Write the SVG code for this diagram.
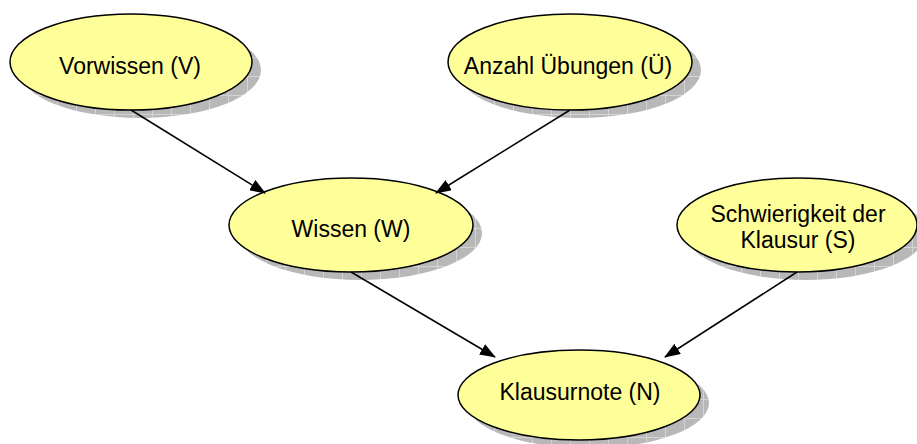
<svg xmlns="http://www.w3.org/2000/svg" width="917" height="444" viewBox="0 0 917 444">
  <defs>
    <!-- grid-textured drop shadow fill -->
    <pattern id="shadowGrid" patternUnits="userSpaceOnUse" width="19" height="19">
      <rect width="19" height="19" fill="#b8b8b8"/>
      <path d="M0 0.5H19M0.5 0V19" stroke="#d4d4d4" stroke-width="1"/>
    </pattern>
    <marker id="arrow" markerUnits="userSpaceOnUse" markerWidth="16" markerHeight="12" refX="15" refY="6" orient="auto">
      <path d="M0 0L16 6L0 12Z" fill="#000"/>
    </marker>
  </defs>
  <style>
    .shadow { fill: url(#shadowGrid); }
    .node { fill: #ffff99; stroke: #000; stroke-width: 1.5; }
    .label { font-family: "Liberation Sans", Arial, sans-serif; font-size: 23px; fill: #000; text-anchor: middle; }
    .edge { stroke: #000; stroke-width: 1.5; fill: none; marker-end: url(#arrow); }
  </style>

  <rect width="917" height="444" fill="#fff"/>

  <g id="node-V">
    <ellipse class="shadow" cx="140" cy="70" rx="121" ry="48"/>
    <ellipse class="node" cx="131" cy="62" rx="121" ry="48"/>
    <text class="label" x="130" y="74">Vorwissen (V)</text>
  </g>

  <g id="node-U">
    <ellipse class="shadow" cx="579" cy="70" rx="122" ry="48"/>
    <ellipse class="node" cx="570" cy="62" rx="122" ry="48"/>
    <text class="label" x="568" y="74">Anzahl Übungen (Ü)</text>
  </g>

  <g id="node-W">
    <ellipse class="shadow" cx="360" cy="233" rx="122" ry="47"/>
    <ellipse class="node" cx="351" cy="225" rx="122" ry="47"/>
    <text class="label" x="351" y="237">Wissen (W)</text>
  </g>

  <g id="node-S">
    <ellipse class="shadow" cx="806" cy="233" rx="120" ry="47"/>
    <ellipse class="node" cx="797" cy="225" rx="120" ry="47"/>
    <text class="label" x="798" y="222">Schwierigkeit der</text>
    <text class="label" x="798" y="248">Klausur (S)</text>
  </g>

  <g id="node-N">
    <ellipse class="shadow" cx="588" cy="403" rx="121" ry="45"/>
    <ellipse class="node" cx="579" cy="395" rx="121" ry="45"/>
    <text class="label" x="580" y="400">Klausurnote (N)</text>
  </g>

  <g id="connectors">
    <line class="edge" x1="131" y1="110" x2="265" y2="193"/>
    <line class="edge" x1="570" y1="110" x2="436" y2="193"/>
    <line class="edge" x1="351" y1="272" x2="495" y2="357"/>
    <line class="edge" x1="797" y1="272" x2="665" y2="357"/>
  </g>
</svg>
